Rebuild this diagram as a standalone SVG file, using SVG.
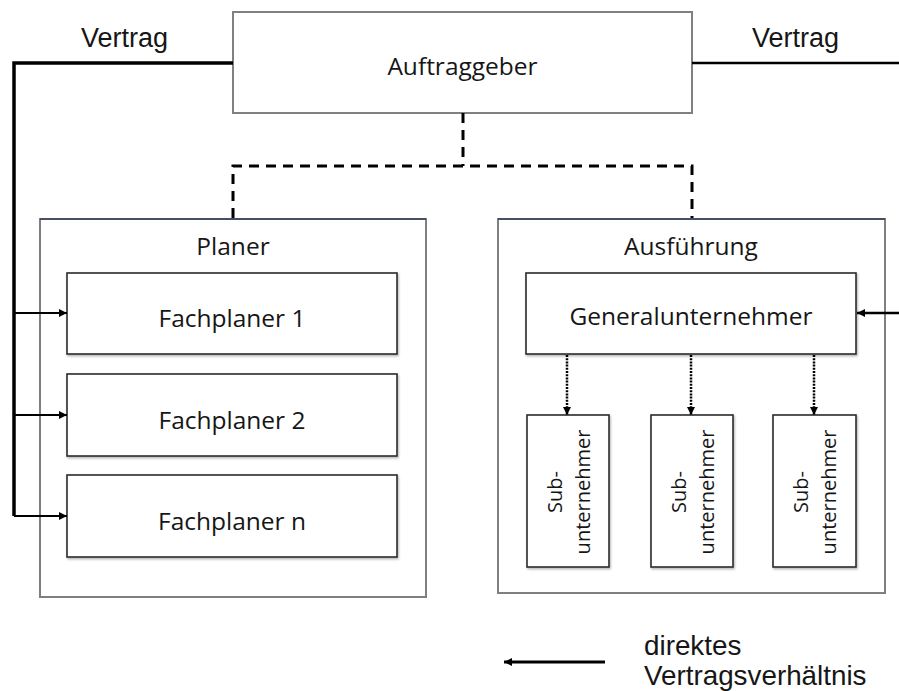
<svg xmlns="http://www.w3.org/2000/svg" width="899" height="691" viewBox="0 0 899 691">
  <style>
    .outer { fill: #ffffff; stroke: #7f7f7f; stroke-width: 2; }
    .outer-top { stroke: #34405a; stroke-width: 1.5; }
    .box { fill: #ffffff; stroke: #2b2b2b; stroke-width: 1.6; filter: url(#shadow); }
    .main { fill: #ffffff; stroke: #808080; stroke-width: 2; }
    .lbl { font-family: "Open Sans", "Noto Sans", sans-serif; font-size: 24.5px; fill: #161616; text-anchor: middle; }
    .sub { font-family: "Open Sans", "Noto Sans", sans-serif; font-size: 20px; fill: #161616; text-anchor: middle; }
    .arial { font-family: "Liberation Sans", Arial, sans-serif; font-size: 27px; fill: #161616; }
    .legend { font-family: "Liberation Sans", Arial, sans-serif; font-size: 27.8px; fill: #161616; }
    .contract { fill: none; stroke: #000000; }
    .dashed { fill: none; stroke: #000000; stroke-width: 3; stroke-dasharray: 10 7; }
    .dotted { fill: none; stroke: #000000; stroke-width: 2.5; stroke-dasharray: 2 1.2; }
  </style>
  <defs>
    <filter id="shadow" x="-10%" y="-10%" width="120%" height="120%">
      <feDropShadow dx="1" dy="1.5" stdDeviation="1" flood-color="#000000" flood-opacity="0.3"/>
    </filter>
    <marker id="head" viewBox="0 0 10 10" refX="10" refY="5" markerWidth="9" markerHeight="8" markerUnits="userSpaceOnUse" orient="auto">
      <path d="M0,0 L10,5 L0,10 z" fill="#000000"/>
    </marker>
    <marker id="headSmall" viewBox="0 0 10 10" refX="10" refY="5" markerWidth="8" markerHeight="8" markerUnits="userSpaceOnUse" orient="auto">
      <path d="M0,0 L10,5 L0,10 z" fill="#000000"/>
    </marker>
  </defs>

  <!-- client -->
  <g id="auftraggeber">
    <rect class="main" x="233" y="12" width="459" height="101"/>
    <text class="lbl" x="462.5" y="75">Auftraggeber</text>
  </g>

  <!-- planning group -->
  <g id="planer">
    <rect class="outer" x="40" y="219" width="386" height="378"/>
    <line class="outer-top" x1="40" y1="219" x2="426" y2="219"/>
    <text class="lbl" x="233" y="255">Planer</text>
  </g>
  <g id="fachplaner1">
    <rect class="box" x="67" y="273" width="330" height="81"/>
    <text class="lbl" x="232" y="327">Fachplaner 1</text>
  </g>
  <g id="fachplaner2">
    <rect class="box" x="67" y="374" width="330" height="82"/>
    <text class="lbl" x="232" y="428.5">Fachplaner 2</text>
  </g>
  <g id="fachplanern">
    <rect class="box" x="67" y="475" width="330" height="82"/>
    <text class="lbl" x="232" y="529.5">Fachplaner n</text>
  </g>

  <!-- execution group -->
  <g id="ausfuehrung">
    <rect class="outer" x="498" y="219" width="387" height="374"/>
    <line class="outer-top" x1="498" y1="219" x2="885" y2="219"/>
    <text class="lbl" x="691" y="255">Ausführung</text>
  </g>
  <g id="generalunternehmer">
    <rect class="box" x="526" y="273" width="330" height="81"/>
    <text class="lbl" x="691" y="325">Generalunternehmer</text>
  </g>
  <g id="sub1">
    <rect class="box" x="527" y="415" width="82" height="152"/>
    <text class="sub" transform="translate(562,492) rotate(-90)"><tspan x="0" y="0">Sub-</tspan><tspan x="0" y="28">unternehmer</tspan></text>
  </g>
  <g id="sub2">
    <rect class="box" x="651" y="415" width="82" height="152"/>
    <text class="sub" transform="translate(686,492) rotate(-90)"><tspan x="0" y="0">Sub-</tspan><tspan x="0" y="28">unternehmer</tspan></text>
  </g>
  <g id="sub3">
    <rect class="box" x="773" y="415" width="83" height="152"/>
    <text class="sub" transform="translate(808,492) rotate(-90)"><tspan x="0" y="0">Sub-</tspan><tspan x="0" y="28">unternehmer</tspan></text>
  </g>

  <!-- connectors -->
  <g id="connectors">
    <path class="contract" stroke-width="3.5" d="M233,63 H14 V516"/>
    <line class="contract" stroke-width="2.2" x1="14" y1="313" x2="67" y2="313" marker-end="url(#headSmall)"/>
    <line class="contract" stroke-width="2.2" x1="14" y1="415" x2="67" y2="415" marker-end="url(#headSmall)"/>
    <line class="contract" stroke-width="2.2" x1="14" y1="516" x2="67" y2="516" marker-end="url(#headSmall)"/>
    <line class="contract" stroke-width="2.5" x1="692" y1="63" x2="899" y2="63"/>
    <line class="contract" stroke-width="2.5" x1="899" y1="313" x2="857" y2="313" marker-end="url(#head)"/>
    <path class="dashed" d="M463,113 V166 M233,218 V166 H692 V218"/>
    <line class="dotted" x1="567" y1="355" x2="567" y2="415" marker-end="url(#headSmall)"/>
    <line class="dotted" x1="691" y1="355" x2="691" y2="415" marker-end="url(#headSmall)"/>
    <line class="dotted" x1="814" y1="355" x2="814" y2="415" marker-end="url(#headSmall)"/>
    <line class="contract" stroke-width="3" x1="605" y1="662" x2="504" y2="662" marker-end="url(#head)"/>
  </g>

  <!-- labels -->
  <text class="arial" x="81" y="47">Vertrag</text>
  <text class="arial" x="752" y="47">Vertrag</text>
  <text class="legend" x="644" y="655">direktes</text>
  <text class="legend" x="644" y="685">Vertragsverhältnis</text>
</svg>
